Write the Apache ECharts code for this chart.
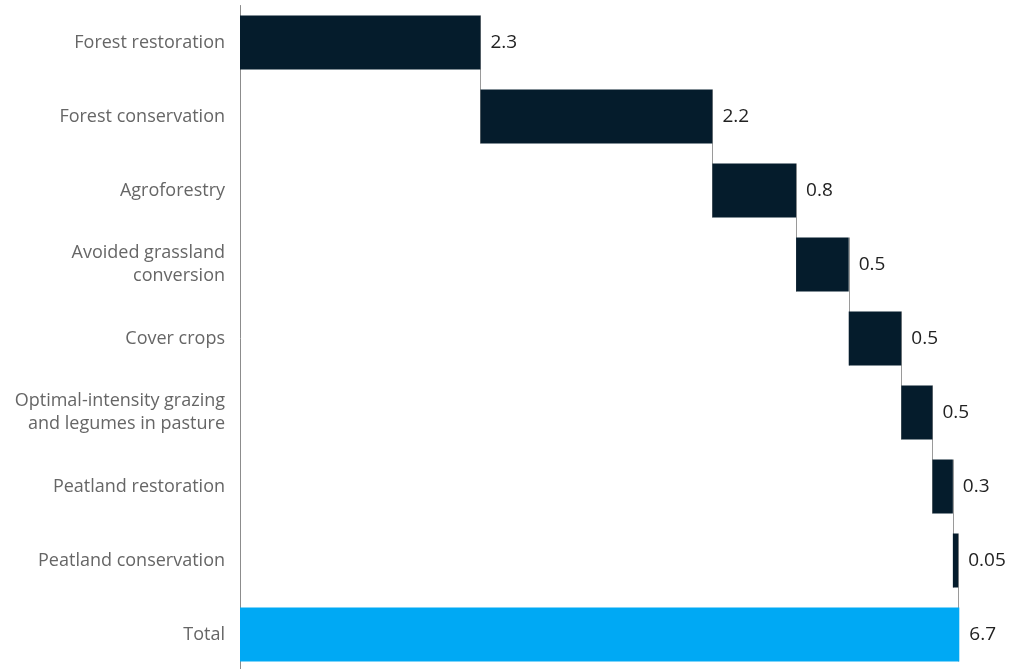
<!DOCTYPE html>
<html>
<head>
<meta charset="utf-8">
<script src="https://cdn.jsdelivr.net/npm/echarts@6/dist/echarts.min.js"></script>
<style>
html,body{margin:0;padding:0;background:#fff;overflow:hidden;}
#chart{width:1019px;height:672px;}
</style>
</head>
<body>
<div id="chart"></div>
<script>
const categories = [
  "Forest restoration",
  "Forest conservation",
  "Agroforestry",
  "Avoided grassland\nconversion",
  "Cover crops",
  "Optimal-intensity grazing\nand legumes in pasture",
  "Peatland restoration",
  "Peatland conservation",
  "Total"
];
// bar lengths
const values = [2.24, 2.16, 0.78, 0.49, 0.49, 0.29, 0.19, 0.05, 6.7];
// printed labels
const valueLabels = ["2.3", "2.2", "0.8", "0.5", "0.5", "0.5", "0.3", "0.05", "6.7"];

const n = categories.length;
const bases = [];
let acc = 0;
for (let i = 0; i < n; i++) {
  if (i === n - 1) { bases.push(0); }
  else { bases.push(acc); acc += values[i]; }
}
const ends = values.map((v, i) => bases[i] + v);
const connectors = [];
for (let i = 0; i < n - 1; i++) connectors.push([ends[i], i, i + 1]);

const FONT = 'Open Sans, Liberation Sans, Arial, sans-serif';
const chart = echarts.init(document.getElementById('chart'));
const BAR_W = 54;
chart.setOption({
  animation: false,
  grid: { left: 240, right: 59.7, top: 5.5, bottom: 0.5, containLabel: false },
  xAxis: {
    type: 'value', min: 0, max: 6.7, show: false
  },
  yAxis: {
    type: 'category', data: categories, inverse: true,
    axisLine: { show: true, lineStyle: { color: '#8c8c8c', width: 1 } },
    axisTick: { show: false },
    axisLabel: {
      color: '#666666', fontSize: 18, fontFamily: FONT,
      lineHeight: 23, margin: 15, align: 'right'
    },
    splitLine: { show: false }
  },
  series: [
    {
      type: 'custom',
      z: 1,
      renderItem: function (params, api) {
        const x = api.coord([api.value(0), api.value(1)])[0];
        const y1 = api.coord([api.value(0), api.value(1)])[1] - BAR_W / 2;
        const y2 = api.coord([api.value(0), api.value(2)])[1] + BAR_W / 2;
        const xr = Math.round(x) + 0.5;
        return {
          type: 'line',
          shape: { x1: xr, y1: y1, x2: xr, y2: y2 },
          style: { stroke: '#9a9a9a', lineWidth: 1 }
        };
      },
      data: connectors
    },
    {
      type: 'bar', stack: 'w', barWidth: BAR_W, z: 2,
      itemStyle: { color: 'transparent' },
      silent: true,
      data: bases
    },
    {
      type: 'bar', stack: 'w', barWidth: BAR_W, z: 3,
      data: values.map((v, i) => ({
        value: v,
        itemStyle: { color: i === n - 1 ? '#00a9f4' : '#051c2c' }
      })),
      label: {
        show: true, position: 'right', distance: 10,
        color: '#222222', fontSize: 19, fontFamily: FONT,
        formatter: function (p) { return valueLabels[p.dataIndex]; }
      }
    }
  ]
});
</script>
</body>
</html>
